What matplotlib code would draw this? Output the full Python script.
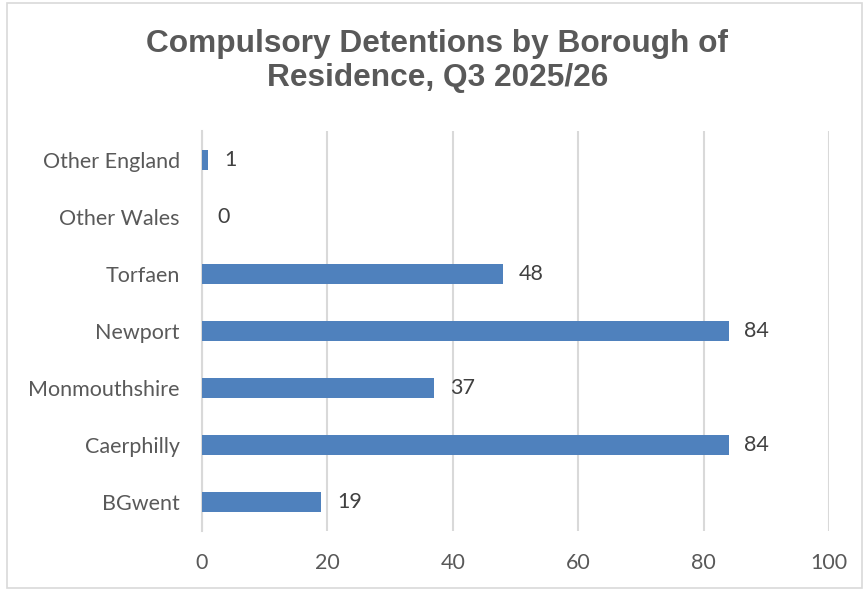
import matplotlib
matplotlib.use("Agg")
import matplotlib.pyplot as plt
from matplotlib.patches import Rectangle

# datos del gráfico
boroughs = ["BGwent", "Caerphilly", "Monmouthshire", "Newport", "Torfaen", "Other Wales", "Other England"]
detentions = [19, 84, 37, 84, 48, 0, 1]
x_ticks = [0, 20, 40, 60, 80, 100]
title = "Compulsory Detentions by Borough of\nResidence, Q3 2025/26"

fig = plt.figure(figsize=(8.64, 5.90), dpi=100)
ax = fig.add_axes([0.2338, 0.1, 0.7257, 0.678])

# borde gris alrededor del gráfico
fig.patches.append(Rectangle((7 / 864, 2 / 590), 855 / 864, 585 / 590, transform=fig.transFigure,
                             fill=False, edgecolor="#D9D9D9", linewidth=1.2))

ax.barh(boroughs, detentions, height=0.35, color="#4F81BD", zorder=3)
for i, v in enumerate(detentions):
    ax.text(v + 2.5, i, str(v), va="center", ha="left", fontsize=15.5, family="Lato", color="#404040")

ax.set_xlim(0, 100)
ax.set_ylim(-0.5, len(boroughs) - 0.5)
ax.set_xticks(x_ticks)
ax.grid(axis="x", color="#D9D9D9", linewidth=1.5, zorder=0)
for s in ["top", "right", "bottom"]:
    ax.spines[s].set_visible(False)
ax.spines["left"].set_color("#D9D9D9")
ax.spines["left"].set_linewidth(1.5)
ax.tick_params(axis="both", length=0, labelsize=15.5, labelcolor="#595959")
ax.tick_params(axis="y", pad=16)
ax.tick_params(axis="x", pad=16)
for lbl in ax.get_xticklabels() + ax.get_yticklabels():
    lbl.set_family("Lato")

fig.text(0.506, 0.896, title, ha="center", va="center", fontsize=22.8, fontweight="bold",
         family="Liberation Sans", color="#595959", linespacing=1.17)

fig.savefig("out.png", dpi=100)
